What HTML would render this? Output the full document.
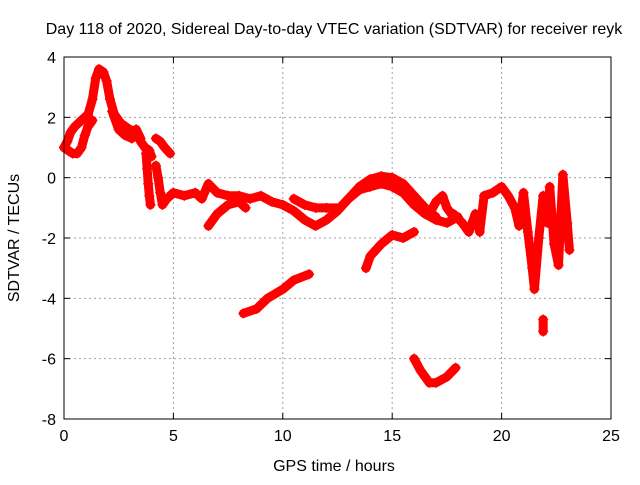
<!DOCTYPE html>
<html><head><meta charset="utf-8"><style>
body{margin:0;background:#fff;}
svg text{font-family:"Liberation Sans",sans-serif;font-size:16px;fill:#000;}
</style></head><body>
<svg id="chart" width="640" height="480" xmlns="http://www.w3.org/2000/svg">
<rect width="640" height="480" fill="#fff"/>
<g id="grid"></g><g id="series"></g><g id="axes"></g>
<text x="334" y="34" text-anchor="middle">Day 118 of 2020, Sidereal Day-to-day VTEC variation (SDTVAR) for receiver reyk</text>
<text x="334" y="471" text-anchor="middle">GPS time / hours</text>
<text transform="translate(19,238) rotate(-90)" text-anchor="middle">SDTVAR / TECUs</text>
</svg>
<script>
const xTicks=[0,5,10,15,20,25];
const yTicks=[-8,-6,-4,-2,0,2,4];
const trackA=[[0,1.0],[0.15,1.2],[0.3,1.5],[0.5,1.7],[0.8,1.9],[1.1,2.1],[1.3,2.6],[1.45,3.3],[1.6,3.6],[1.8,3.5],[1.95,3.2],[2.1,2.6],[2.3,2.1],[2.6,1.8],[3.0,1.6],[3.3,1.5],[3.5,1.2],[3.7,1.0],[3.9,0.9],[4.0,0.7]];
const trackA2=[[0,1.0],[0.2,0.9],[0.4,0.8],[0.6,0.8],[0.8,1.0],[0.95,1.4],[1.1,1.7],[1.3,1.9]];
const trackA3=[[2.2,2.2],[2.5,1.6],[2.8,1.4],[3.1,1.3],[3.3,1.6],[3.5,1.3]];
const trackA4=[[3.75,0.8],[3.8,0.3],[3.85,-0.2],[3.9,-0.6],[3.95,-0.9]];
const trackB=[[4.2,1.3],[4.4,1.2],[4.6,1.0],[4.85,0.8]];
const trackC=[[4.2,0.4],[4.3,0.0],[4.4,-0.5],[4.5,-0.9],[4.7,-0.7],[5,-0.5],[5.5,-0.6],[6,-0.5],[6.3,-0.7],[6.6,-0.2],[7,-0.5],[7.5,-0.6],[8,-0.6],[8.5,-0.7],[9,-0.6],[9.5,-0.8],[10,-0.9],[10.5,-1.1],[11,-1.4],[11.5,-1.6],[12,-1.4],[12.5,-1.1],[13,-0.7],[13.5,-0.4],[14,-0.3],[14.5,-0.2],[15,-0.3],[15.5,-0.5],[16,-0.9],[16.5,-1.2],[17,-1.4],[17.5,-1.5],[18,-1.3]];
const trackD=[[10.5,-0.7],[11,-0.9],[11.5,-1.0],[12,-1.0],[12.6,-1.0],[13,-0.7],[13.5,-0.3],[14,-0.05],[14.5,0.05],[15,0.0],[15.5,-0.2],[16,-0.6],[16.5,-1.0],[17,-1.3]];
const trackE=[[6.6,-1.6],[7,-1.2],[7.5,-0.9],[8,-0.8],[8.3,-1.0]];
const trackF=[[8.2,-4.5],[8.8,-4.35],[9.3,-4.0],[10,-3.7],[10.5,-3.4],[11.2,-3.2]];
const trackG=[[13.8,-3.0],[14.0,-2.6],[14.5,-2.2],[15,-1.9],[15.5,-2.0],[16,-1.8]];
const trackH=[[16,-6.0],[16.3,-6.4],[16.7,-6.8],[17,-6.8],[17.5,-6.6],[17.9,-6.3]];
const trackI=[[16.7,-1.2],[17.0,-0.8],[17.3,-0.6],[17.5,-1.0],[17.8,-1.3]];
const trackJ=[[17.8,-1.2],[18.2,-1.5],[18.5,-1.8],[18.8,-1.2],[19.0,-1.8],[19.2,-0.6],[19.6,-0.5],[20,-0.3],[20.3,-0.6],[20.6,-1.0],[20.8,-1.6],[21,-0.5],[21.2,-1.8],[21.4,-3.0],[21.5,-3.7],[21.7,-2.0],[21.9,-0.6],[22.1,-1.5],[22.2,-0.3],[22.4,-2.2],[22.6,-2.9],[22.8,0.1],[23.0,-1.5],[23.1,-2.4]];
const trackK=[[21.9,-4.7],[21.9,-5.1]];
const tracks=[trackA,trackA2,trackA3,trackA4,trackB,trackC,trackD,trackE,trackF,trackG,trackH,trackI,trackJ,trackK];
const L=64,R=611,T=57,B=419;
const sx=v=>L+(v-0)/(25-0)*(R-L);
const sy=v=>B-(v+8)/12*(B-T);
const NS='http://www.w3.org/2000/svg';
function mk(t,a,p){const e=document.createElementNS(NS,t);for(const k in a)e.setAttribute(k,a[k]);p.appendChild(e);return e;}
const grid=document.getElementById('grid'),axes=document.getElementById('axes'),ser=document.getElementById('series');
xTicks.forEach(v=>{const x=sx(v);
 if(v>0&&v<25){const g=mk('line',{x1:x,x2:x,y1:T,y2:B,stroke:'#a0a0a0','stroke-dasharray':'2,3'},grid);
 
 }
 mk('line',{x1:x,x2:x,y1:B,y2:B-6,stroke:'#000'},axes);mk('line',{x1:x,x2:x,y1:T,y2:T+6,stroke:'#000'},axes);
 const t=mk('text',{x:x,y:B+22,'text-anchor':'middle'},axes);t.textContent=v;
 
 });
yTicks.forEach(v=>{const y=sy(v);
 if(v>-8&&v<4){const g=mk('line',{x1:L,x2:R,y1:y,y2:y,stroke:'#a0a0a0','stroke-dasharray':'2,3'},grid);
 
 }
 mk('line',{x1:L,x2:L+6,y1:y,y2:y,stroke:'#000'},axes);mk('line',{x1:R,x2:R-6,y1:y,y2:y,stroke:'#000'},axes);
 const t=mk('text',{x:L-8,y:y+6,'text-anchor':'end'},axes);t.textContent=v;
 
 });
mk('rect',{x:L,y:T,width:R-L,height:B-T,fill:'none',stroke:'#000'},axes);
tracks.forEach(tr=>{
 const pl=mk('polyline',{points:tr.map(p=>sx(p[0])+','+sy(p[1])).join(' '),fill:'none',stroke:'#f00','stroke-width':9,'stroke-linejoin':'round','stroke-linecap':'round'},ser);
 
 
 tr.forEach(p=>{const x=sx(p[0]),y=sy(p[1]);
  const m=mk('path',{d:`M${x-5},${y}H${x+5}M${x},${y-5}V${y+5}`,stroke:'#f00','stroke-width':1.5},ser);
  
  });
});
</script>
</body></html>
